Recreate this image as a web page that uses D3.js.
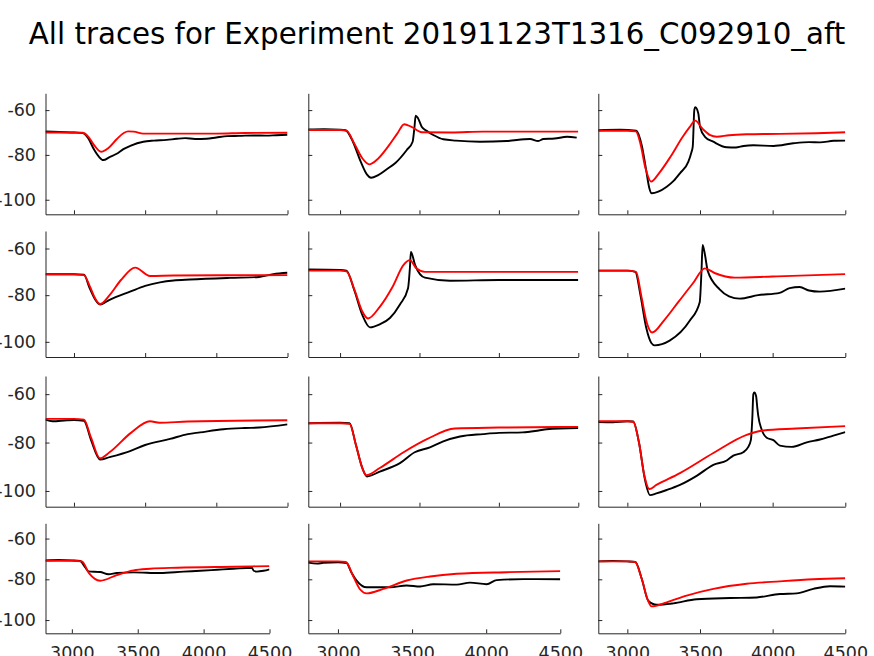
<!DOCTYPE html>
<html>
<head>
<meta charset="utf-8">
<script src="https://cdn.jsdelivr.net/npm/d3@7"></script>
<style>
  html, body { margin: 0; padding: 0; background: #fff; }
  svg { display: block; }
  text { font-family: "DejaVu Sans", sans-serif; }
</style>
</head>
<body>
<svg id="chart" width="874" height="656"></svg>
<script>
// ---------- data ----------
const titleText = "All traces for Experiment 20191123T1316_C092910_aft";
const xTicks = [3000, 3500, 4000, 4500];
const yTicks = [-60, -80, -100];
const xDomain = [2800, 4500];
const yDomain = [-106.5, -52.5];

// panel 1 (row 1, col 1)
const p1Measured = [[2800,-69.5],[2900,-69.8],[3000,-70],[3060,-70.2],[3100,-72.5],[3140,-77.5],[3175,-80.8],[3206,-82.3],[3250,-81],[3300,-79.5],[3347,-77.4],[3400,-75.8],[3487,-74.1],[3560,-73.6],[3651,-73.3],[3720,-72.8],[3781,-72.5],[3850,-72.9],[3932,-72.8],[4000,-72.2],[4078,-71.6],[4160,-71.5],[4265,-71.3],[4350,-71.4],[4420,-71.2],[4500,-71]];
const p1Model = [[2800,-70],[3000,-70],[3060,-70.1],[3100,-71.8],[3140,-75.5],[3190,-78.6],[3240,-77],[3300,-73],[3350,-70.2],[3380,-69.5],[3420,-69.6],[3487,-70.5],[3700,-70.5],[4000,-70.5],[4200,-70.2],[4500,-70.1]];
// panel 2
const p2Measured = [[2800,-68.6],[2900,-68.5],[3000,-68.7],[3035,-69],[3080,-74],[3130,-83],[3170,-88.8],[3195,-90.2],[3240,-89],[3294,-86.4],[3350,-83.5],[3420,-77.8],[3457,-74.1],[3468,-68],[3476,-62.5],[3490,-63.5],[3514,-67.4],[3550,-69.5],[3587,-71.1],[3650,-73],[3730,-73.6],[3881,-74.1],[4049,-73.8],[4196,-72.9],[4248,-73.8],[4280,-72.9],[4350,-72.7],[4429,-71.9],[4490,-72.3]];
const p2Model = [[2800,-68.9],[3000,-68.9],[3042,-69.3],[3090,-75],[3140,-81.5],[3184,-84.2],[3230,-82.3],[3300,-76.5],[3360,-70.5],[3404,-66.3],[3450,-67.5],[3514,-69.9],[3700,-70],[3900,-69.6],[4500,-69.6]];
// panel 3
const p3Measured = [[2800,-69],[2950,-68.8],[3061,-69.2],[3100,-76],[3130,-87],[3150,-94.5],[3167,-97.1],[3213,-96.4],[3271,-94.2],[3320,-91.5],[3362,-88.2],[3420,-83],[3440,-79],[3450,-76.3],[3461,-59.9],[3468,-58.7],[3488,-61.4],[3500,-67.4],[3534,-71.9],[3591,-74.1],[3684,-76.6],[3746,-76.7],[3800,-76],[3867,-75.7],[4006,-76],[4142,-74.8],[4250,-74.3],[4326,-74.4],[4420,-73.7],[4500,-73.6]];
const p3Model = [[2800,-69.2],[3000,-69.2],[3059,-69.5],[3090,-75],[3125,-86],[3163,-91.9],[3220,-88],[3300,-80.5],[3380,-72],[3430,-67.5],[3466,-64.7],[3520,-68.5],[3570,-71.2],[3615,-71.9],[3700,-71.2],[3821,-70.8],[4050,-70.6],[4300,-70.3],[4500,-69.9]];
// panel 4 (row 2)
const p4Measured = [[2800,-71],[3000,-71],[3070,-71.2],[3110,-77],[3150,-82],[3183,-84],[3250,-82],[3394,-78.5],[3500,-76],[3604,-74.5],[3700,-73.7],[3815,-73.3],[4096,-72.6],[4300,-72.2],[4400,-71],[4500,-70.4]];
const p4Model = [[2800,-71.2],[3000,-71.2],[3070,-71.4],[3110,-76],[3150,-81.5],[3183,-83.8],[3250,-80],[3330,-73.5],[3430,-68.2],[3534,-71.8],[3700,-71.6],[4500,-71.4]];
// panel 5
const p5Measured = [[2800,-69],[3000,-69.2],[3040,-69.5],[3090,-78],[3140,-88.5],[3188,-93.8],[3250,-92.5],[3314,-89.8],[3377,-84],[3428,-77],[3440,-68],[3446,-61.5],[3472,-67],[3534,-72.5],[3692,-73.8],[4000,-73.5],[4500,-73.5]];
const p5Model = [[2800,-69.5],[3000,-69.5],[3040,-69.8],[3090,-77.5],[3140,-87],[3176,-90],[3250,-85],[3330,-76.5],[3400,-67],[3440,-65],[3480,-68.5],[3534,-70],[4000,-70],[4500,-70]];
// panel 6
const p6Measured = [[2800,-69.5],[3000,-69.5],[3055,-70],[3090,-80],[3130,-94],[3165,-100.5],[3188,-101.5],[3291,-99.5],[3429,-91],[3498,-83],[3510,-70],[3518,-58.5],[3535,-63],[3553,-69.6],[3635,-77.5],[3700,-80.5],[3773,-81.5],[3900,-80],[4048,-79],[4117,-77],[4186,-76.5],[4250,-78],[4324,-78.5],[4500,-77.2]];
const p6Model = [[2800,-69.5],[3000,-69.5],[3060,-70],[3095,-80],[3135,-92],[3170,-96],[3250,-91],[3350,-83],[3450,-75],[3534,-68.5],[3600,-70.5],[3740,-72.5],[4000,-72],[4500,-71]];
// panel 7 (row 3)
const p7Measured = [[2800,-70.5],[2850,-71.2],[2950,-70.8],[3000,-70.7],[3070,-71],[3120,-79],[3183,-87],[3250,-86],[3394,-83.5],[3500,-81],[3675,-78.5],[3800,-76.5],[3886,-75.8],[4050,-74.5],[4200,-74],[4300,-73.8],[4500,-72.5]];
const p7Model = [[2800,-70.2],[3000,-70.2],[3070,-70.5],[3120,-78],[3183,-86.5],[3250,-84],[3400,-76],[3534,-71.2],[3600,-71.8],[3800,-71.3],[4500,-70.8]];
// panel 8
const p8Measured = [[2800,-72],[3000,-71.8],[3060,-72],[3100,-81],[3140,-90.5],[3170,-94],[3250,-92],[3377,-88.5],[3470,-84],[3566,-82],[3650,-79.5],[3755,-77.5],[3900,-76.5],[4000,-76],[4150,-75.8],[4250,-75],[4300,-74.5],[4500,-74]];
const p8Model = [[2800,-72],[3000,-72],[3060,-72.3],[3100,-81],[3140,-90.5],[3165,-93.5],[3250,-90.5],[3400,-84],[3550,-78.5],[3723,-74.2],[4000,-73.8],[4500,-73.5]];
// panel 9
const p9Measured = [[2800,-71.5],[2900,-71.6],[3000,-71.2],[3040,-71.3],[3080,-80],[3120,-95],[3156,-101.7],[3200,-101],[3271,-99.6],[3362,-97.5],[3477,-93.75],[3592,-89.2],[3684,-87.4],[3729,-85.4],[3798,-84],[3830,-82],[3850,-79],[3860,-70],[3867,-60],[3874,-59.3],[3886,-60.8],[3895,-66],[3901,-69],[3924,-74.6],[3959,-78],[4005,-79],[4050,-81.25],[4131,-81.8],[4235,-79.9],[4326,-78.75],[4418,-77.1],[4500,-75.7]];
const p9Model = [[2800,-71.2],[3000,-71.2],[3041,-71.5],[3080,-80],[3115,-93],[3151,-99.2],[3200,-97.5],[3362,-92.6],[3592,-84.3],[3821,-76.8],[3936,-75],[4161,-74.2],[4500,-73.2]];
// panel 10 (row 4)
const p10Measured = [[2800,-70.7],[2900,-70.5],[3000,-70.7],[3063,-71],[3100,-74],[3126,-76.1],[3215,-76.4],[3278,-77.5],[3341,-76.9],[3468,-76.6],[3670,-76.9],[3847,-76.2],[3974,-75.8],[4101,-75.3],[4227,-74.8],[4366,-74.3],[4380,-75.8],[4404,-76.2],[4455,-75.8],[4500,-75.1]];
const p10Model = [[2800,-70.9],[3000,-70.9],[3076,-71.2],[3130,-77],[3215,-80.7],[3341,-77.9],[3468,-75.6],[3594,-74.8],[3800,-74.3],[4227,-73.8],[4500,-73.5]];
// panel 11
const p11Measured = [[2800,-71.8],[2860,-72.3],[2900,-71.9],[3000,-71.6],[3058,-72],[3090,-76.5],[3126,-80.6],[3194,-83.9],[3351,-83.9],[3464,-83],[3554,-83.5],[3643,-82.4],[3801,-82.6],[3891,-81.6],[4003,-82.4],[4071,-80.4],[4251,-79.9],[4500,-80]];
const p11Model = [[2800,-71.2],[3000,-71.2],[3054,-71.5],[3100,-78],[3150,-85],[3194,-86.9],[3306,-84.7],[3464,-80.6],[3621,-78.6],[3801,-77.3],[4138,-76.5],[4500,-76]];
// panel 12
const p12Measured = [[2800,-71.2],[2900,-71],[3000,-71.2],[3055,-71.5],[3100,-80],[3144,-90.5],[3202,-92.5],[3317,-91.8],[3477,-89.8],[3707,-89.2],[3890,-88.9],[4050,-87.2],[4165,-86.9],[4280,-84.7],[4394,-83.4],[4500,-83.6]];
const p12Model = [[2800,-71.2],[3000,-71.2],[3053,-71.5],[3100,-80],[3140,-90],[3167,-93.3],[3271,-91.3],[3408,-88],[3592,-84.7],[3821,-82.2],[4050,-81],[4280,-80],[4500,-79.5]];

const measuredSeries = [p1Measured,p2Measured,p3Measured,p4Measured,p5Measured,p6Measured,p7Measured,p8Measured,p9Measured,p10Measured,p11Measured,p12Measured];
const modelSeries = [p1Model,p2Model,p3Model,p4Model,p5Model,p6Model,p7Model,p8Model,p9Model,p10Model,p11Model,p12Model];

// ---------- layout ----------
const colX = [45.5, 308.3, 598.3];
const colW = [242, 270, 247];
const colWBottom = [224, 252, 247];
const rowY = [93.3, 231, 376, 523.3];
const rowH = [121, 126, 130.7, 110];
const axisColor = "#262626";
const tickFont = 17.5;

const svg = d3.select("#chart");

svg.append("text")
  .attr("x", 437).attr("y", 44)
  .attr("text-anchor", "middle")
  .attr("font-size", 29.3)
  .attr("fill", "#000")
  .text(titleText);

for (let i = 0; i < 12; i++) {
  const r = Math.floor(i / 3), c = i % 3;
  const w = r === 3 ? colWBottom[c] : colW[c];
  const h = rowH[r];
  const g = svg.append("g").attr("transform", `translate(${colX[c]},${rowY[r]})`);
  const x = d3.scaleLinear().domain(xDomain).range([0, w]);
  const y = d3.scaleLinear().domain(yDomain).range([h, 0]);

  const clipId = "clip" + i;
  g.append("clipPath").attr("id", clipId).append("rect")
    .attr("x", 0).attr("y", 0).attr("width", w).attr("height", h);

  const line = d3.line().x(d => x(d[0])).y(d => y(d[1])).curve(d3.curveMonotoneX);
  const lg = g.append("g").attr("clip-path", `url(#${clipId})`);
  lg.append("path").datum(measuredSeries[i])
    .attr("d", line).attr("fill", "none").attr("stroke", "#000")
    .attr("stroke-width", 1.9).attr("stroke-linejoin", "round");
  lg.append("path").datum(modelSeries[i])
    .attr("d", line).attr("fill", "none").attr("stroke", "#ff0000")
    .attr("stroke-width", 1.9).attr("stroke-linejoin", "round");

  const yAxis = d3.axisLeft(y).tickValues(yTicks).tickSizeInner(-4).tickSizeOuter(0).tickPadding(9.5)
    .tickFormat(c === 0 ? (d => String(d)) : (() => ""));
  const xAxis = d3.axisBottom(x).tickValues(xTicks).tickSizeInner(-4).tickSizeOuter(0).tickPadding(13)
    .tickFormat(r === 3 ? (d => String(d)) : (() => ""));

  const ya = g.append("g").call(yAxis);
  const xa = g.append("g").attr("transform", `translate(0,${h})`).call(xAxis);
  [ya, xa].forEach(a => {
    a.select(".domain").attr("stroke", axisColor).attr("stroke-width", 1);
    a.selectAll(".tick line").attr("stroke", axisColor).attr("stroke-width", 1);
    a.selectAll(".tick text").attr("fill", axisColor).attr("font-size", tickFont)
      .attr("font-family", "DejaVu Sans, sans-serif");
  });
}
</script>
</body>
</html>
